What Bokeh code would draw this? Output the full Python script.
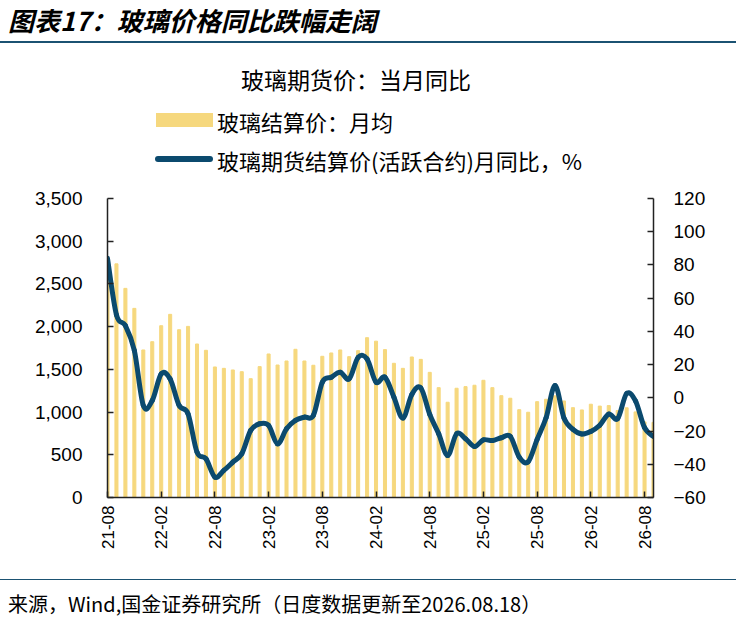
import math
from bokeh.plotting import figure
from bokeh.layouts import column
from bokeh.models import (Range1d, LinearAxis, FixedTicker, NumeralTickFormatter,
                          ColumnDataSource, Div)
from bokeh.embed import file_html
from bokeh.resources import INLINE

# ---------------- data ----------------
months = [f"{y:02d}-{m:02d}" for y in range(21, 27) for m in range(1, 13)]
months = months[months.index("21-08"):months.index("26-09") + 1]

tick_labels = ["21-08", "22-02", "22-08", "23-02", "23-08", "24-02",
               "24-08", "25-02", "25-08", "26-02", "26-08"]

settle_price = [2800, 2735, 2448, 2214, 1727, 1824, 2011, 2144, 1964, 2003,
                1797, 1723, 1528, 1512, 1493, 1473, 1391, 1532, 1680, 1551,
                1598, 1735, 1598, 1548, 1653, 1692, 1727, 1649, 1719, 1871,
                1830, 1731, 1571, 1512, 1645, 1617, 1465, 1286, 1115, 1279,
                1298, 1314, 1372, 1286, 1192, 1162, 1028, 998, 1122, 1150,
                1190, 1130, 1052, 1025, 1092, 1070, 1076, 1018, 1050, 1002,
                885, 880]

futures_yoy = [84.0, 50.0, 43.5, 28.5, -4.6, -1.6, 14.4, 11.4, -4.6, -9.6,
               -32.7, -36.7, -47.7, -43.7, -38.7, -33.7, -19.6, -15.6, -16.6, -27.7,
               -18.6, -13.6, -11.6, -10.6, 9.4, 12.4, 15.4, 11.4, 24.4, 23.4,
               9.4, 12.4, 0.4, -12.2, 2.0, 6.0, -10.0, -21.6, -34.7, -21.6,
               -24.6, -29.3, -25.3, -25.7, -24.0, -23.2, -35.7, -38.5, -25.0, -12.0,
               7.4, -12.2, -19.0, -21.8, -20.2, -16.5, -9.8, -12.5, 2.6, -2.0,
               -18.0, -23.3]

header_title = "图表17：玻璃价格同比跌幅走阔"
chart_title = "玻璃期货价：当月同比"
bar_name = "玻璃结算价：月均"
line_name = "玻璃期货结算价(活跃合约)月同比，%"
footer = "来源，Wind,国金证券研究所（日度数据更新至2026.08.18）"

BAR_COLOR = "#F6D87E"
LINE_COLOR = "#0B4A6E"
RULE_COLOR = "#1B5272"
CJK = "'Noto Sans CJK SC'"
AX_FONT = "Liberation Sans"

W = 736
HEAD_H = 186      # page y 0 .. 186
MAIN_H = 374      # page y 186 .. 560
FOOT_H = 622 - HEAD_H - MAIN_H


def txt(s, left, center_y, size, lh, extra=""):
    top = center_y - lh / 2
    return (f'<div style="position:absolute;left:{left}px;top:{top}px;'
            f'font-size:{size}px;line-height:{lh}px;white-space:nowrap;{extra}">{s}</div>')


def rule(top, h, color, left=0, width=W, extra=""):
    return (f'<div style="position:absolute;left:{left}px;top:{top}px;width:{width}px;'
            f'height:{h}px;background:{color};{extra}"></div>')


def panel(h, inner):
    return (f'<div style="position:relative;width:{W}px;height:{h}px;'
            f'font-family:{CJK};color:black;background:white;">{inner}</div>')


# ---------------- header: title, chart title, legend ----------------
head_html = panel(HEAD_H, "".join([
    txt(header_title, 8, 20, 26, 30, "font-weight:bold;font-style:italic;"),
    rule(41.3, 2, RULE_COLOR),
    f'<div style="position:absolute;left:0px;top:65px;width:712px;text-align:center;'
    f'font-size:23px;line-height:28px;white-space:nowrap;">{chart_title}</div>',
    rule(112.7, 14, BAR_COLOR, left=156, width=56.5),
    txt(bar_name, 217, 120.5, 22, 26),
    rule(156.4, 6, LINE_COLOR, left=155, width=58, extra="border-radius:3px;"),
    txt(line_name, 217, 160, 22, 26),
]))
head = Div(text=head_html, width=W, height=HEAD_H,
           styles={"margin": "0px", "padding": "0px"})

# ---------------- main chart ----------------
idx = list(range(len(months)))

p = figure(width=W, height=MAIN_H, output_backend="svg", toolbar_location=None,
           x_range=Range1d(0, len(months) - 1), y_range=Range1d(0, 3500),
           min_border_left=107, min_border_right=83, min_border_top=12,
           min_border_bottom=63)
p.outline_line_color = None
p.grid.visible = False
p.background_fill_color = "white"
p.border_fill_color = "white"
p.extra_y_ranges = {"yoy": Range1d(-60, 120)}

src = ColumnDataSource(dict(x=idx, price=settle_price, yoy=futures_yoy, month=months))
p.vbar(x="x", top="price", width=0.34, color=BAR_COLOR, source=src)

# smooth line (Catmull-Rom -> cubic Bezier) through the data points
n = len(idx)
x0s, y0s, x1s, y1s, cx0, cy0, cx1, cy1 = [], [], [], [], [], [], [], []
for i in range(n - 1):
    pm = max(i - 1, 0)
    pp = min(i + 2, n - 1)
    x0s.append(idx[i]); y0s.append(futures_yoy[i])
    x1s.append(idx[i + 1]); y1s.append(futures_yoy[i + 1])
    cx0.append(idx[i] + (idx[i + 1] - idx[pm]) / 6)
    cy0.append(futures_yoy[i] + (futures_yoy[i + 1] - futures_yoy[pm]) / 6)
    cx1.append(idx[i + 1] - (idx[pp] - idx[i]) / 6)
    cy1.append(futures_yoy[i + 1] - (futures_yoy[pp] - futures_yoy[i]) / 6)
p.bezier(x0=x0s, y0=y0s, x1=x1s, y1=y1s, cx0=cx0, cy0=cy0, cx1=cx1, cy1=cy1,
         line_color=LINE_COLOR, line_width=5, line_cap="round", y_range_name="yoy")


def style_axis(ax, size):
    ax.axis_line_color = "#222222"
    ax.axis_line_width = 1.5
    ax.major_tick_line_color = "#222222"
    ax.major_tick_line_width = 1.5
    ax.major_tick_in = 6
    ax.major_tick_out = 0
    ax.minor_tick_line_color = None
    ax.major_label_text_color = "black"
    ax.major_label_text_font = AX_FONT
    ax.major_label_text_font_size = size


style_axis(p.yaxis[0], "19px")
p.yaxis[0].ticker = FixedTicker(ticks=[0, 500, 1000, 1500, 2000, 2500, 3000, 3500])
p.yaxis[0].formatter = NumeralTickFormatter(format="0,0")
p.yaxis[0].major_label_standoff = 25

style_axis(p.xaxis[0], "17px")
tick_pos = [months.index(t) for t in tick_labels]
p.xaxis[0].ticker = FixedTicker(ticks=tick_pos)
p.xaxis[0].major_label_overrides = {k: v for k, v in zip(tick_pos, tick_labels)}
p.xaxis[0].major_label_orientation = math.pi / 2
p.xaxis[0].major_label_standoff = 8

ry = LinearAxis(y_range_name="yoy",
                ticker=FixedTicker(ticks=[-60, -40, -20, 0, 20, 40, 60, 80, 100, 120]))
style_axis(ry, "19px")
ry.major_label_standoff = 20
p.add_layout(ry, "right")

# ---------------- footer ----------------
foot_html = panel(FOOT_H, "".join([
    rule(578.5 - HEAD_H - MAIN_H, 1.8, RULE_COLOR),
    txt(footer, 8, 604 - HEAD_H - MAIN_H, 20, 26),
]))
foot = Div(text=foot_html, width=W, height=FOOT_H,
           styles={"margin": "0px", "padding": "0px"})

layout = column(head, p, foot, spacing=0)
open("out.html", "w").write(file_html(layout, INLINE))
